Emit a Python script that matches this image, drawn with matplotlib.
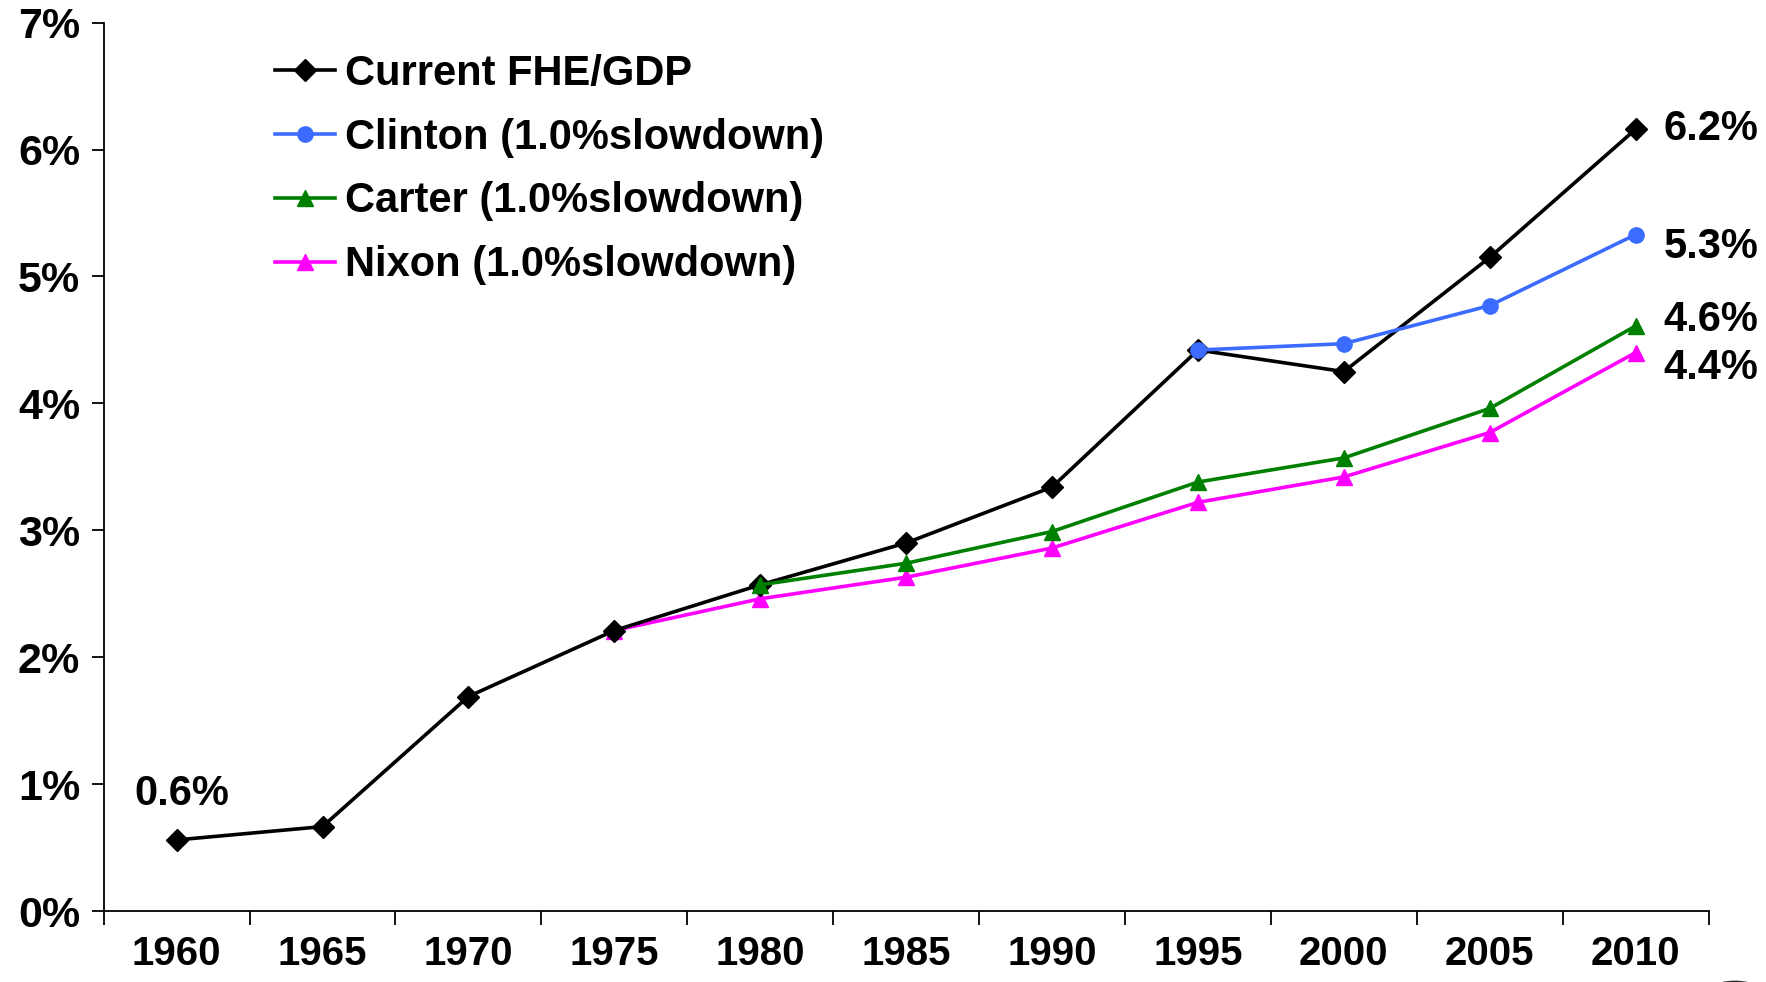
import matplotlib.pyplot as plt
from matplotlib.patches import Circle
from matplotlib.ticker import FixedLocator, FuncFormatter

plt.rcParams["font.family"] = ["Liberation Sans", "DejaVu Sans"]
plt.rcParams["font.weight"] = "bold"

YEARS = ["1960", "1965", "1970", "1975", "1980", "1985", "1990", "1995", "2000", "2005", "2010"]

# share of GDP, percent; None where a scenario has not started yet
CURRENT = [0.56, 0.665, 1.69, 2.21, 2.57, 2.90, 3.34, 4.42, 4.25, 5.15, 6.16]
CLINTON = [None, None, None, None, None, None, None, 4.42, 4.47, 4.77, 5.33]
CARTER = [None, None, None, None, 2.57, 2.74, 2.99, 3.38, 3.57, 3.96, 4.61]
NIXON = [None, None, None, 2.21, 2.46, 2.63, 2.86, 3.22, 3.42, 3.77, 4.40]

LABELS = ["Current FHE/GDP", "Clinton (1.0%slowdown)", "Carter (1.0%slowdown)", "Nixon (1.0%slowdown)"]
COLORS = ["#000000", "#3b6cff", "#008000", "#ff00ff"]
MARKERS = ["D", "o", "^", "^"]
MSIZES = [11, 11, 12, 12]


def present(values):
    xs = [i for i, v in enumerate(values) if v is not None]
    return xs, [values[i] for i in xs]


fig = plt.figure(figsize=(17.66, 9.82), dpi=100)
ax = fig.add_axes([0.0587, 0.0723, 0.9088, 0.9047])

# current series drawn under the clinton line, scenarios stacked above
series = [CURRENT, CLINTON, CARTER, NIXON]
for z, (vals, lab, col, mk, ms) in enumerate(zip(series, LABELS, COLORS, MARKERS, MSIZES)):
    xs, ys = present(vals)
    ax.plot(xs, ys, color=col, marker=mk, markersize=ms, linewidth=2.6,
            label=lab, zorder=10 - z if z else 8, clip_on=False)

# end-point labels
ends = [(CURRENT, 0), (CLINTON, -9), (CARTER, 4.5), (NIXON, -11)]
for vals, dy in ends:
    ax.annotate(f"{vals[-1]:.1f}%", (len(vals) - 1, vals[-1]), xytext=(20, dy),
                textcoords="offset points", ha="left", va="center", fontsize=30,
                fontweight="bold")
ax.annotate(f"{CURRENT[0]:.1f}%", (0, CURRENT[0]), xytext=(4, 33),
            textcoords="offset points", ha="center", va="center", fontsize=30,
            fontweight="bold")

ax.set_xlim(-0.5, len(YEARS) - 0.5)
ax.set_ylim(0, 7)
ax.set_xticks(range(len(YEARS)))
ax.set_xticklabels(YEARS)
ax.xaxis.set_minor_locator(FixedLocator([i - 0.5 for i in range(len(YEARS) + 1)]))
ax.tick_params(axis="x", which="major", length=0, pad=17, labelsize=29)
ax.tick_params(axis="x", which="minor", length=10, width=1.3, direction="out")
ax.set_yticks(range(0, 8))
ax.yaxis.set_major_formatter(FuncFormatter(lambda v, p: f"{v:.0f}%"))
ax.tick_params(axis="y", length=9, width=1.3, pad=8, labelsize=31)
for lbl in ax.get_xticklabels() + ax.get_yticklabels():
    lbl.set_fontweight("bold")

ax.spines["top"].set_visible(False)
ax.spines["right"].set_visible(False)
for s in ("left", "bottom"):
    ax.spines[s].set_linewidth(1.3)

leg = fig.legend(loc="upper left", bbox_to_anchor=(0.1465, 0.962), frameon=False,
                 fontsize=30, handlelength=1.43, handletextpad=0.25, labelspacing=0.57,
                 borderaxespad=0, markerscale=1)
for t in leg.get_texts():
    t.set_fontweight("bold")

# partial badge peeking in at the lower right corner
fig.patches.append(Circle((1735 / 1766, -0.02), 0.02, transform=fig.transFigure,
                          fill=False, edgecolor="#333333", linewidth=2))

fig.savefig("out.png", dpi=100)
